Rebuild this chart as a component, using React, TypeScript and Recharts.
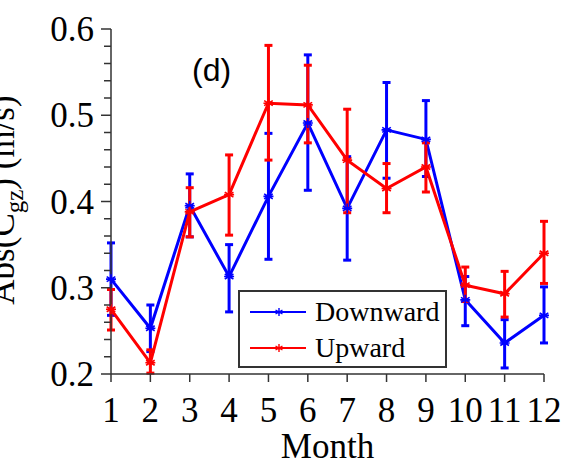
import React from 'react';
import {
    ComposedChart,
    Line,
    XAxis,
    YAxis,
    ErrorBar,
    Legend,
    Customized
} from 'recharts';

// values (panel d)
const MONTHS = [1, 2, 3, 4, 5, 6, 7, 8, 9, 10, 11, 12];

const DOWNWARD = [0.310, 0.253, 0.395, 0.313, 0.406, 0.491, 0.392, 0.483, 0.472, 0.286, 0.236, 0.268];
const DOWNWARD_HI = [0.352, 0.280, 0.432, 0.350, 0.479, 0.570, 0.452, 0.538, 0.517, 0.313, 0.263, 0.301];
const DOWNWARD_LO = [0.268, 0.226, 0.359, 0.272, 0.333, 0.413, 0.332, 0.427, 0.429, 0.256, 0.207, 0.236];

const UPWARD = [0.275, 0.213, 0.388, 0.408, 0.514, 0.512, 0.448, 0.415, 0.440, 0.303, 0.293, 0.340];
const UPWARD_HI = [0.298, 0.228, 0.416, 0.454, 0.581, 0.558, 0.507, 0.444, 0.468, 0.324, 0.319, 0.377];
const UPWARD_LO = [0.251, 0.201, 0.359, 0.361, 0.448, 0.468, 0.387, 0.387, 0.411, 0.284, 0.266, 0.305];

const Y_MAJOR = [0.2, 0.3, 0.4, 0.5, 0.6];
const Y_TICKS = [0.2, 0.22, 0.24, 0.26, 0.28, 0.3, 0.32, 0.34, 0.36, 0.38, 0.4,
    0.42, 0.44, 0.46, 0.48, 0.5, 0.52, 0.54, 0.56, 0.58, 0.6];

const SERIES_NAMES = ['Downward', 'Upward'];
const PANEL_TAG = '(d)';

const BLUE = '#0000ff';
const RED = '#ff0000';
const AXIS = '#333333';
const SERIF = '"Liberation Serif", "Times New Roman", serif';
const SANS = '"Liberation Sans", Arial, sans-serif';

const data = MONTHS.map((m, i) => ({
    month: m,
    down: DOWNWARD[i],
    downErr: [DOWNWARD[i] - DOWNWARD_LO[i], DOWNWARD_HI[i] - DOWNWARD[i]],
    up: UPWARD[i],
    upErr: [UPWARD[i] - UPWARD_LO[i], UPWARD_HI[i] - UPWARD[i]],
}));

const isMajor = (v: number) => Y_MAJOR.some(m => Math.abs(m - v) < 1e-6);

// asterisk marker like the matlab '*'
const Star = ({ cx, cy, color, r = 5, sw = 1.6 }: any) => {
    if (cx == null || cy == null) return null;
    const d = [0, 60, 120].map(a => {
        const rad = (a * Math.PI) / 180;
        const dx = Math.sin(rad) * r;
        const dy = Math.cos(rad) * r;
        return `M${cx - dx},${cy - dy}L${cx + dx},${cy + dy}`;
    }).join('');
    return <path d={d + `M${cx - r},${cy}L${cx + r},${cy}`} stroke={color} strokeWidth={sw} fill="none" />;
};

const LeftTick = (props: any) => {
    const { x, y, payload } = props;
    const v = payload.value;
    const major = isMajor(v);
    return (
        <g>
            <line x1={x - (major ? 10 : 7)} x2={x} y1={y} y2={y} stroke={AXIS} strokeWidth={1.5} />
            {major && (
                <text x={x - 17} y={y + 12} textAnchor="end" fontFamily={SERIF} fontSize={35} fill="#000">
                    {v.toFixed(1)}
                </text>
            )}
        </g>
    );
};

const RightTick = (props: any) => {
    const { x, y } = props;
    return <line x1={x} x2={x + 6} y1={y} y2={y} stroke={AXIS} strokeWidth={1.5} />;
};

const BottomTick = (props: any) => {
    const { x, y, payload } = props;
    return (
        <g>
            <line x1={x} x2={x} y1={y} y2={y + 8} stroke={AXIS} strokeWidth={1.5} />
            <text x={x} y={y + 48} textAnchor="middle" fontFamily={SERIF} fontSize={35} fill="#000">
                {payload.value}
            </text>
        </g>
    );
};

const TopTick = (props: any) => {
    const { x, y } = props;
    return <line x1={x} x2={x} y1={y} y2={y - 8} stroke={AXIS} strokeWidth={1.5} />;
};

// y label runs off the left edge in the original too
const YLabel = () => (
    <text
        transform="translate(14,200) rotate(-90)"
        textAnchor="middle"
        fontFamily={SERIF}
        fontSize={35}
        fill="#000"
    >
        Abs(C<tspan fontSize={25} dy={9}>gz</tspan><tspan dy={-9}>) (m/s)</tspan>
    </text>
);

const PanelTag = () => (
    <text x={192} y={81} fontFamily={SANS} fontSize={32} fill="#000">
        {PANEL_TAG}
    </text>
);

const LegendBox = () => (
    <div style={{
        width: 209, height: 78, boxSizing: 'border-box', border: `2px solid ${AXIS}`,
        background: '#fff', fontFamily: SERIF, fontSize: 28, color: '#000'
    }}>
        {SERIES_NAMES.map((name, i) => {
            const c = i === 0 ? BLUE : RED;
            return (
                <div key={name} style={{ display: 'flex', alignItems: 'center', height: 36, marginTop: i === 0 ? 2 : 0 }}>
                    <svg width={75} height={36} style={{ flex: 'none' }}>
                        <line x1={10} x2={66} y1={18} y2={18} stroke={c} strokeWidth={2} />
                        <Star cx={39} cy={18} color={c} r={4} sw={1.4} />
                    </svg>
                    <span style={{ lineHeight: '36px' }}>{name}</span>
                </div>
            );
        })}
    </div>
);

export default function App() {
    return (
        <div style={{ position: 'absolute', left: 0, top: 0, width: 567, height: 469, background: '#fff' }}>
            <ComposedChart
                width={567}
                height={469}
                data={data}
                margin={{ top: 29, right: 23, bottom: 0, left: 0 }}
            >
                <XAxis
                    dataKey="month"
                    type="number"
                    domain={[1, 12]}
                    ticks={MONTHS}
                    interval={0}
                    height={95}
                    tickSize={0}
                    tickMargin={0}
                    tickLine={false}
                    axisLine={{ stroke: AXIS, strokeWidth: 1.5 }}
                    tick={<BottomTick />}
                    label={{ value: 'Month', position: 'insideBottom', offset: 11, fontSize: 35, fill: '#000', fontFamily: SERIF }}
                />
                <XAxis
                    xAxisId="top"
                    orientation="top"
                    dataKey="month"
                    type="number"
                    domain={[1, 12]}
                    allowDataOverflow
                    ticks={MONTHS}
                    interval={0}
                    height={0}
                    tickSize={0}
                    tickMargin={0}
                    tickLine={false}
                    axisLine={{ stroke: AXIS, strokeWidth: 1.5 }}
                    tick={<TopTick />}
                />
                <YAxis
                    type="number"
                    domain={[0.2, 0.6]}
                    allowDataOverflow
                    ticks={Y_TICKS}
                    interval={0}
                    width={111}
                    tickSize={0}
                    tickMargin={0}
                    tickLine={false}
                    axisLine={{ stroke: AXIS, strokeWidth: 1.5 }}
                    tick={<LeftTick />}
                />
                <YAxis
                    yAxisId="right"
                    orientation="right"
                    type="number"
                    domain={[0.2, 0.6]}
                    allowDataOverflow
                    ticks={Y_TICKS}
                    interval={0}
                    width={0}
                    tickSize={0}
                    tickMargin={0}
                    tickLine={false}
                    axisLine={{ stroke: AXIS, strokeWidth: 1.5 }}
                    tick={<RightTick />}
                />
                <Line
                    type="linear"
                    dataKey="down"
                    name={SERIES_NAMES[0]}
                    stroke={BLUE}
                    strokeWidth={3}
                    dot={(p: any) => <Star key={`d${p.index}`} cx={p.cx} cy={p.cy} color={BLUE} />}
                    activeDot={false}
                    isAnimationActive={false}
                >
                    <ErrorBar dataKey="downErr" direction="y" width={4} stroke={BLUE} strokeWidth={3} isAnimationActive={false} />
                </Line>
                <Line
                    type="linear"
                    dataKey="up"
                    name={SERIES_NAMES[1]}
                    stroke={RED}
                    strokeWidth={3}
                    dot={(p: any) => <Star key={`u${p.index}`} cx={p.cx} cy={p.cy} color={RED} />}
                    activeDot={false}
                    isAnimationActive={false}
                >
                    <ErrorBar dataKey="upErr" direction="y" width={4} stroke={RED} strokeWidth={3} isAnimationActive={false} />
                </Line>
                <Customized component={YLabel} />
                <Customized component={PanelTag} />
                <Legend
                    layout="vertical"
                    align="center"
                    verticalAlign="middle"
                    content={<LegendBox />}
                    wrapperStyle={{ position: 'absolute', left: 238, top: 290, width: 209, height: 78 }}
                />
            </ComposedChart>
        </div>
    );
}
